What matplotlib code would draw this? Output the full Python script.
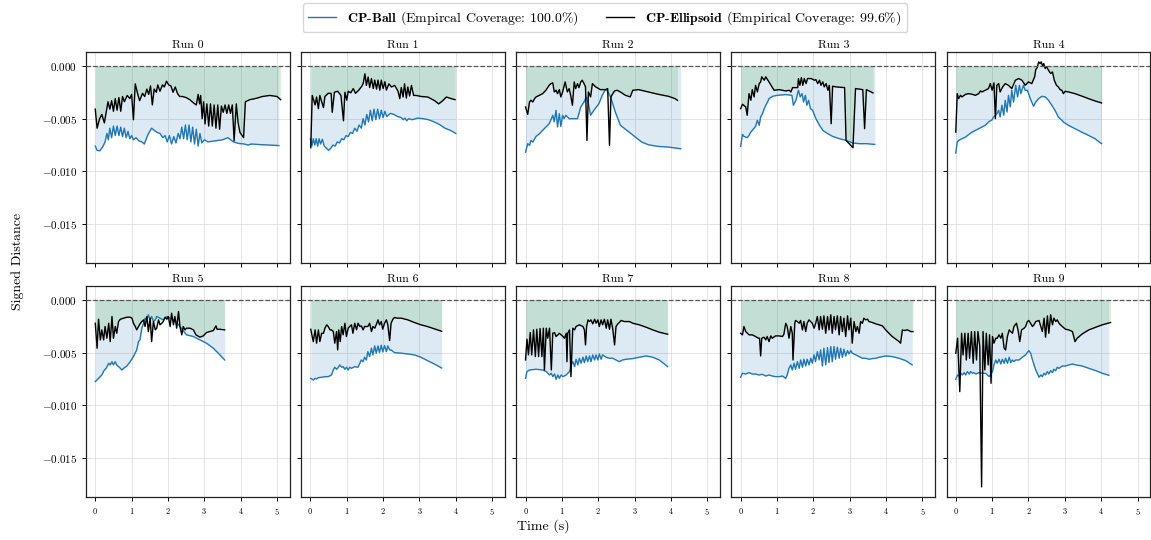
import matplotlib
matplotlib.use("Agg")
import matplotlib.pyplot as plt

plt.rcParams.update({
    "font.family": "cmr10",
    "mathtext.fontset": "cm",
    "axes.formatter.use_mathtext": True,
    "axes.unicode_minus": True,
})

SCALE = 1e-3  # values below are in units of 1e-3

RUNS = ["Run 0", "Run 1", "Run 2", "Run 3", "Run 4",
        "Run 5", "Run 6", "Run 7", "Run 8", "Run 9"]
BALL_LABEL = r"$\mathbf{CP}$-$\mathbf{Ball}$ (Empircal Coverage: 100.0%)"
ELL_LABEL = r"$\mathbf{CP}$-$\mathbf{Ellipsoid}$ (Empirical Coverage: 99.6%)"

# CP-Ball signed distance per run
T_BALL = [
    [0.0, 0.05, 0.12, 0.2, 0.27, 0.32, 0.36, 0.4, 0.45, 0.5, 0.55, 0.6, 0.65, 0.7, 0.75, 0.8, 0.85, 0.9, 0.95, 1.0,
     1.05, 1.12, 1.2, 1.28, 1.35, 1.45, 1.55, 1.62, 1.7, 1.78, 1.86, 1.92, 1.98, 2.04, 2.1, 2.16, 2.22, 2.28, 2.33,
     2.38, 2.43, 2.48, 2.53, 2.58, 2.63, 2.68, 2.73, 2.78, 2.83, 2.88, 2.93, 3.0, 3.1, 3.3, 3.5, 3.65, 3.8, 3.95,
     4.1, 4.2, 4.3, 4.5, 4.8, 5.05],
    [0.0, 0.04, 0.08, 0.12, 0.16, 0.2, 0.24, 0.28, 0.33, 0.38, 0.44, 0.5, 0.56, 0.62, 0.68, 0.74, 0.8, 0.86, 0.92,
     0.98, 1.04, 1.1, 1.16, 1.22, 1.28, 1.34, 1.4, 1.45, 1.5, 1.55, 1.6, 1.65, 1.7, 1.75, 1.8, 1.85, 1.9, 1.95, 2.0,
     2.05, 2.1, 2.2, 2.3, 2.4, 2.5, 2.55, 2.6, 2.65, 2.7, 2.8, 2.95, 3.1, 3.25, 3.4, 3.55, 3.7, 3.85, 4.0],
    [0.0, 0.06, 0.11, 0.15, 0.2, 0.29, 0.38, 0.47, 0.56, 0.65, 0.7, 0.75, 0.79, 0.84, 0.88, 0.93, 0.97, 1.02, 1.06,
     1.11, 1.2, 1.43, 1.52, 1.61, 1.67, 1.73, 1.79, 1.88, 2.02, 2.11, 2.2, 2.25, 2.34, 2.47, 2.61, 2.79, 3.02, 3.2,
     3.38, 3.65, 3.93, 4.27],
    [0.0, 0.05, 0.09, 0.18, 0.23, 0.28, 0.32, 0.41, 0.46, 0.51, 0.55, 0.6, 0.65, 0.69, 0.74, 0.78, 0.88, 1.01, 1.24,
     1.41, 1.45, 1.52, 1.59, 1.64, 1.69, 1.73, 1.78, 1.82, 1.87, 1.92, 1.98, 2.07, 2.17, 2.26, 2.4, 2.53, 2.72, 2.9,
     3.09, 3.27, 3.46, 3.69],
    [0.0, 0.04, 0.08, 0.17, 0.27, 0.36, 0.45, 0.54, 0.63, 0.72, 0.81, 0.9, 1.0, 1.04, 1.09, 1.13, 1.18, 1.22, 1.27,
     1.32, 1.36, 1.41, 1.45, 1.5, 1.54, 1.59, 1.65, 1.7, 1.75, 1.79, 1.86, 1.91, 1.97, 2.05, 2.14, 2.2, 2.28, 2.37,
     2.46, 2.55, 2.64, 2.73, 2.82, 2.92, 2.96, 3.1, 3.28, 3.46, 3.65, 3.83, 4.01],
    [0.0, 0.09, 0.18, 0.25, 0.3, 0.37, 0.41, 0.46, 0.5, 0.55, 0.59, 0.64, 0.69, 0.73, 0.78, 0.87, 0.96, 1.05, 1.14,
     1.19, 1.23, 1.28, 1.33, 1.37, 1.42, 1.46, 1.51, 1.55, 1.6, 1.65, 1.69, 1.78, 1.87, 1.97, 2.06, 2.15, 2.24, 2.33,
     2.51, 2.7, 2.88, 3.06, 3.25, 3.43, 3.56],
    [0.01, 0.08, 0.13, 0.17, 0.22, 0.31, 0.4, 0.49, 0.58, 0.63, 0.67, 0.72, 0.77, 0.81, 0.86, 0.9, 0.95, 0.99, 1.04,
     1.08, 1.13, 1.22, 1.31, 1.36, 1.4, 1.45, 1.49, 1.54, 1.58, 1.63, 1.68, 1.72, 1.77, 1.81, 1.86, 1.9, 1.95, 1.99,
     2.04, 2.09, 2.13, 2.18, 2.22, 2.31, 2.5, 2.68, 2.86, 3.04, 3.22, 3.41, 3.61],
    [0.0, 0.04, 0.11, 0.29, 0.48, 0.57, 0.66, 0.71, 0.75, 0.8, 0.84, 0.89, 0.93, 0.98, 1.03, 1.12, 1.16, 1.21, 1.25,
     1.3, 1.35, 1.39, 1.44, 1.48, 1.53, 1.58, 1.62, 1.67, 1.71, 1.76, 1.8, 1.85, 1.9, 1.94, 1.99, 2.03, 2.08, 2.12,
     2.22, 2.31, 2.4, 2.49, 2.58, 2.67, 2.77, 2.95, 3.13, 3.32, 3.5, 3.68, 3.77, 3.91],
    [0.0, 0.05, 0.14, 0.23, 0.32, 0.41, 0.5, 0.6, 0.69, 0.78, 0.87, 0.96, 1.06, 1.15, 1.24, 1.28, 1.33, 1.38, 1.42,
     1.47, 1.51, 1.56, 1.61, 1.65, 1.7, 1.74, 1.79, 1.83, 1.88, 1.93, 1.97, 2.02, 2.06, 2.11, 2.16, 2.2, 2.25, 2.29,
     2.34, 2.39, 2.43, 2.48, 2.52, 2.57, 2.61, 2.66, 2.71, 2.75, 2.8, 2.84, 2.89, 2.94, 2.98, 3.03, 3.07, 3.17, 3.26,
     3.35, 3.44, 3.53, 3.62, 3.72, 3.81, 3.9, 3.99, 4.17, 4.36, 4.54, 4.72],
    [0.0, 0.05, 0.09, 0.14, 0.18, 0.23, 0.27, 0.32, 0.37, 0.41, 0.46, 0.5, 0.55, 0.64, 0.73, 0.82, 0.92, 1.01, 1.05,
     1.1, 1.14, 1.19, 1.24, 1.28, 1.33, 1.37, 1.42, 1.47, 1.51, 1.56, 1.6, 1.65, 1.74, 1.83, 1.92, 2.01, 2.06, 2.11,
     2.2, 2.29, 2.34, 2.38, 2.43, 2.47, 2.52, 2.56, 2.61, 2.66, 2.7, 2.75, 2.79, 2.84, 2.93, 3.02, 3.11, 3.21, 3.3,
     3.48, 3.66, 3.85, 4.03, 4.21],
]
Y_BALL = [
    [-7.6, -8.0, -8.05, -7.7, -7.2, -6.4, -7.0, -5.9, -6.8, -5.7, -6.6, -5.7, -6.6, -5.8, -6.7, -5.9, -6.8, -6.2, -6.9,
     -6.6, -7.0, -6.8, -7.1, -7.2, -7.4, -6.5, -5.9, -6.1, -6.3, -6.4, -6.8, -6.6, -7.2, -6.6, -7.4, -6.7, -7.3, -6.4,
     -6.9, -5.8, -6.9, -5.6, -7.0, -5.6, -7.2, -5.8, -7.4, -6.0, -7.6, -6.4, -7.3, -7.0, -7.2, -7.1, -7.0, -6.8, -7.2,
     -7.35, -7.4, -7.5, -7.4, -7.45, -7.5, -7.55],
    [-6.9, -7.6, -6.9, -7.5, -6.9, -7.6, -6.9, -7.4, -6.95, -7.6, -7.8, -8.0, -7.8, -7.5, -7.6, -7.2, -7.3, -6.9, -7.0,
     -6.6, -6.7, -6.3, -6.4, -5.9, -6.2, -5.6, -5.9, -5.0, -5.6, -4.6, -5.3, -4.2, -5.2, -4.1, -5.1, -4.1, -5.0, -4.2,
     -4.9, -4.3, -4.8, -4.5, -4.6, -4.8, -4.9, -5.1, -4.95, -5.2, -5.0, -5.1, -4.95, -5.0, -5.1, -5.3, -5.55, -5.9,
     -6.1, -6.4],
    [-8.17, -7.37, -7.53, -7.06, -7.22, -6.68, -6.43, -6.11, -5.79, -5.48, -5.1, -4.68, -5.3, -4.21, -5.79, -4.53,
     -5.73, -4.68, -5.0, -4.68, -5.0, -5.0, -3.89, -3.42, -2.94, -3.58, -4.68, -4.21, -3.58, -2.79, -2.25, -2.37,
     -2.94, -4.37, -5.63, -6.11, -6.74, -7.22, -7.47, -7.63, -7.69, -7.85],
    [-7.63, -6.49, -6.68, -6.8, -6.58, -6.27, -6.11, -5.73, -5.16, -5.63, -4.84, -4.53, -4.05, -3.73, -3.42, -3.1,
     -2.88, -2.79, -2.72, -2.79, -3.73, -3.26, -2.31, -2.94, -2.63, -3.42, -2.79, -3.73, -3.26, -4.05, -4.21, -5.0,
     -5.63, -6.11, -6.43, -6.68, -6.9, -7.06, -7.31, -7.37, -7.37, -7.44],
    [-8.26, -7.22, -7.06, -6.9, -6.74, -6.49, -6.27, -6.11, -5.95, -5.79, -5.63, -5.32, -5.1, -4.84, -4.68, -4.53,
     -4.21, -4.84, -3.73, -4.68, -3.26, -4.37, -2.79, -3.89, -2.31, -3.42, -1.84, -2.94, -1.84, -2.63, -1.84, -2.31,
     -2.31, -3.1, -3.83, -3.42, -3.1, -2.88, -2.94, -3.26, -3.73, -4.21, -4.84, -5.16, -5.32, -5.63, -5.95, -6.27,
     -6.58, -6.9, -7.37],
    [-7.75, -7.44, -7.12, -6.65, -6.49, -6.01, -6.17, -5.86, -6.17, -5.86, -6.17, -6.33, -6.49, -6.65, -6.49, -6.27,
     -5.86, -5.38, -4.75, -3.96, -3.8, -2.69, -2.22, -1.74, -1.9, -1.42, -1.9, -1.58, -2.06, -1.9, -1.58, -1.74, -1.9,
     -1.58, -1.74, -1.9, -2.15, -2.53, -3.32, -3.48, -3.8, -4.11, -4.59, -5.22, -5.7],
    [-7.44, -7.6, -7.44, -7.5, -7.37, -7.34, -7.28, -7.28, -7.12, -6.65, -6.39, -6.58, -6.39, -6.17, -6.39, -6.33,
     -6.58, -6.39, -6.65, -6.39, -6.49, -6.33, -6.39, -6.01, -5.7, -5.86, -5.44, -5.7, -4.91, -5.38, -4.59, -5.22,
     -4.37, -5.06, -4.37, -5.0, -4.3, -4.94, -4.34, -4.91, -4.37, -4.75, -4.75, -5.0, -5.06, -5.13, -5.22, -5.44,
     -5.76, -6.08, -6.46],
    [-7.44, -6.8, -6.65, -6.58, -6.65, -6.8, -7.12, -6.96, -7.28, -7.03, -7.53, -7.12, -7.44, -7.12, -7.28, -7.12,
     -6.96, -6.8, -6.17, -5.86, -6.33, -5.63, -6.17, -5.54, -6.01, -5.44, -5.95, -5.32, -5.86, -5.32, -5.86, -5.22,
     -5.7, -5.22, -5.7, -5.13, -5.63, -5.22, -5.44, -5.54, -5.54, -5.7, -5.86, -5.7, -5.63, -5.57, -5.44, -5.32,
     -5.44, -5.7, -5.95, -6.33],
    [-7.34, -6.96, -7.03, -6.9, -7.03, -7.03, -7.12, -7.06, -7.22, -7.12, -7.22, -7.28, -7.28, -7.22, -7.44, -7.12,
     -6.49, -6.17, -6.65, -6.01, -6.58, -5.86, -6.49, -5.7, -6.39, -5.63, -6.27, -5.63, -6.17, -5.54, -6.01, -5.22,
     -5.86, -4.91, -5.7, -4.75, -6.27, -4.59, -6.17, -4.53, -5.95, -4.43, -5.86, -4.43, -5.63, -4.49, -5.54, -4.59,
     -5.44, -4.68, -5.32, -4.81, -5.13, -4.81, -5.06, -5.22, -5.38, -5.54, -5.54, -5.63, -5.57, -5.54, -5.44, -5.38,
     -5.32, -5.38, -5.54, -5.76, -6.17],
    [-7.53, -7.12, -7.22, -6.96, -7.12, -6.9, -7.12, -6.8, -7.03, -6.8, -6.96, -6.9, -7.03, -6.9, -6.96, -6.96, -7.28,
     -6.8, -6.17, -5.7, -6.01, -5.63, -6.08, -5.63, -6.01, -5.54, -6.01, -5.44, -5.95, -5.7, -5.86, -5.7, -5.7, -5.44,
     -5.22, -4.81, -5.06, -5.7, -6.65, -7.34, -7.12, -7.28, -6.96, -7.12, -6.8, -7.03, -6.71, -6.9, -6.58, -6.71,
     -6.39, -6.49, -6.27, -6.27, -6.17, -6.08, -6.17, -6.27, -6.49, -6.71, -6.96, -7.15],
]

# CP-Ellipsoid signed distance per run
T_ELL = [
    [0.0, 0.05, 0.12, 0.18, 0.25, 0.3, 0.35, 0.4, 0.45, 0.5, 0.55, 0.6, 0.65, 0.7, 0.75, 0.8, 0.88, 0.95, 1.0, 1.05,
     1.1, 1.17, 1.22, 1.3, 1.36, 1.42, 1.47, 1.52, 1.57, 1.62, 1.68, 1.72, 1.78, 1.85, 1.9, 1.96, 2.02, 2.08, 2.14,
     2.2, 2.26, 2.32, 2.4, 2.5, 2.6, 2.7, 2.78, 2.83, 2.87, 2.9, 2.94, 2.98, 3.02, 3.07, 3.12, 3.17, 3.22, 3.27, 3.32,
     3.37, 3.42, 3.47, 3.52, 3.57, 3.62, 3.67, 3.72, 3.77, 3.82, 3.88, 3.93, 3.98, 4.08, 4.13, 4.25, 4.4, 4.6, 4.8,
     5.0, 5.1],
    [0.01, 0.05, 0.13, 0.17, 0.22, 0.26, 0.31, 0.36, 0.4, 0.49, 0.57, 0.6, 0.66, 0.75, 0.84, 0.91, 0.95, 1.0, 1.04,
     1.11, 1.18, 1.24, 1.33, 1.41, 1.45, 1.5, 1.54, 1.59, 1.63, 1.68, 1.73, 1.77, 1.82, 1.86, 1.91, 1.95, 2.0, 2.05,
     2.09, 2.16, 2.23, 2.32, 2.41, 2.46, 2.5, 2.55, 2.59, 2.64, 2.68, 2.73, 2.78, 2.84, 2.91, 3.05, 3.23, 3.42, 3.53,
     3.64, 3.74, 3.87, 3.98],
    [0.0, 0.06, 0.11, 0.15, 0.2, 0.25, 0.29, 0.38, 0.47, 0.56, 0.65, 0.7, 0.75, 0.79, 0.84, 0.88, 0.93, 0.97, 1.02,
     1.09, 1.15, 1.2, 1.25, 1.29, 1.34, 1.38, 1.43, 1.47, 1.52, 1.56, 1.61, 1.65, 1.69, 1.73, 1.79, 1.84, 1.93, 2.06,
     2.2, 2.26, 2.31, 2.35, 2.4, 2.45, 2.52, 2.61, 2.75, 2.88, 2.95, 3.11, 3.38, 3.65, 3.93, 4.11, 4.18],
    [0.0, 0.05, 0.14, 0.18, 0.23, 0.28, 0.32, 0.37, 0.41, 0.46, 0.51, 0.55, 0.58, 0.65, 0.69, 0.78, 0.92, 1.06, 1.24,
     1.34, 1.38, 1.43, 1.57, 1.59, 1.63, 1.67, 1.71, 1.75, 1.8, 1.84, 1.94, 2.03, 2.07, 2.12, 2.17, 2.21, 2.26, 2.3,
     2.35, 2.4, 2.44, 2.49, 2.53, 2.63, 2.86, 2.9, 3.09, 3.16, 3.36, 3.41, 3.46, 3.59, 3.64],
    [0.0, 0.04, 0.08, 0.13, 0.17, 0.27, 0.36, 0.45, 0.54, 0.63, 0.68, 0.72, 0.81, 0.9, 0.95, 1.0, 1.05, 1.09, 1.13,
     1.18, 1.22, 1.29, 1.36, 1.45, 1.54, 1.64, 1.73, 1.82, 1.91, 2.0, 2.09, 2.17, 2.2, 2.24, 2.28, 2.32, 2.35, 2.39,
     2.42, 2.46, 2.5, 2.55, 2.61, 2.66, 2.71, 2.77, 2.82, 2.87, 2.92, 2.96, 3.01, 3.1, 3.28, 3.46, 3.65, 3.83, 4.01],
    [0.0, 0.05, 0.09, 0.14, 0.18, 0.23, 0.27, 0.32, 0.37, 0.41, 0.46, 0.5, 0.55, 0.59, 0.64, 0.69, 0.78, 0.87, 0.96,
     1.01, 1.05, 1.1, 1.14, 1.19, 1.23, 1.28, 1.33, 1.37, 1.42, 1.46, 1.51, 1.55, 1.6, 1.65, 1.69, 1.74, 1.78, 1.83,
     1.87, 1.92, 1.97, 2.01, 2.06, 2.1, 2.15, 2.19, 2.24, 2.29, 2.33, 2.38, 2.42, 2.47, 2.51, 2.61, 2.7, 2.77, 2.88,
     2.97, 3.06, 3.15, 3.25, 3.32, 3.35, 3.43, 3.56],
    [0.01, 0.05, 0.08, 0.13, 0.17, 0.22, 0.26, 0.31, 0.36, 0.4, 0.45, 0.49, 0.54, 0.58, 0.63, 0.67, 0.72, 0.75, 0.78,
     0.82, 0.86, 0.9, 0.95, 0.99, 1.04, 1.08, 1.13, 1.17, 1.22, 1.27, 1.31, 1.36, 1.4, 1.45, 1.49, 1.58, 1.63, 1.68,
     1.72, 1.77, 1.81, 1.86, 1.9, 1.95, 1.99, 2.04, 2.09, 2.13, 2.18, 2.22, 2.27, 2.31, 2.4, 2.5, 2.68, 2.86, 3.04,
     3.22, 3.41, 3.61],
    [0.0, 0.04, 0.08, 0.13, 0.17, 0.22, 0.27, 0.31, 0.36, 0.4, 0.45, 0.49, 0.52, 0.57, 0.61, 0.66, 0.71, 0.75, 0.8,
     0.84, 0.89, 0.93, 0.98, 1.03, 1.07, 1.12, 1.14, 1.16, 1.21, 1.25, 1.3, 1.35, 1.39, 1.48, 1.58, 1.62, 1.65, 1.68,
     1.72, 1.76, 1.8, 1.85, 1.9, 1.94, 1.99, 2.03, 2.08, 2.12, 2.17, 2.22, 2.26, 2.31, 2.35, 2.4, 2.45, 2.49, 2.54,
     2.58, 2.63, 2.72, 2.86, 2.95, 3.13, 3.32, 3.5, 3.68, 3.91],
    [0.0, 0.05, 0.09, 0.14, 0.23, 0.32, 0.41, 0.49, 0.52, 0.55, 0.58, 0.64, 0.69, 0.73, 0.78, 0.83, 0.87, 0.96, 1.06,
     1.15, 1.19, 1.24, 1.28, 1.33, 1.38, 1.42, 1.44, 1.49, 1.51, 1.56, 1.61, 1.65, 1.7, 1.74, 1.79, 1.83, 1.88, 1.97,
     2.02, 2.06, 2.11, 2.16, 2.2, 2.25, 2.29, 2.34, 2.39, 2.43, 2.48, 2.52, 2.57, 2.61, 2.66, 2.71, 2.75, 2.8, 2.84,
     2.89, 2.94, 2.98, 3.03, 3.07, 3.12, 3.17, 3.21, 3.26, 3.3, 3.35, 3.39, 3.44, 3.49, 3.53, 3.62, 3.72, 3.81, 3.9,
     3.99, 4.08, 4.17, 4.27, 4.36, 4.4, 4.45, 4.5, 4.59, 4.68, 4.74],
    [0.0, 0.05, 0.11, 0.16, 0.2, 0.25, 0.29, 0.34, 0.38, 0.43, 0.48, 0.52, 0.57, 0.61, 0.66, 0.71, 0.75, 0.8, 0.84,
     0.89, 0.93, 0.97, 1.01, 1.05, 1.1, 1.14, 1.19, 1.24, 1.28, 1.33, 1.37, 1.42, 1.47, 1.51, 1.56, 1.6, 1.67, 1.72,
     1.76, 1.81, 1.88, 1.92, 1.97, 2.01, 2.11, 2.15, 2.2, 2.29, 2.38, 2.43, 2.47, 2.52, 2.56, 2.61, 2.66, 2.7, 2.75,
     2.79, 2.84, 2.88, 2.93, 3.02, 3.11, 3.21, 3.28, 3.34, 3.48, 3.66, 3.85, 4.03, 4.26],
]
Y_ELL = [
    [-4.1, -5.9, -5.0, -4.6, -5.4, -4.4, -3.4, -4.1, -3.3, -4.3, -3.1, -4.2, -3.0, -4.3, -2.9, -3.4, -2.8, -3.1, -2.7,
     -5.1, -1.7, -2.7, -3.3, -2.6, -2.9, -2.2, -2.7, -1.9, -3.7, -2.2, -2.5, -1.8, -2.4, -1.8, -2.0, -1.45, -1.8, -1.9,
     -2.5, -2.0, -2.6, -2.9, -2.9, -3.0, -3.2, -3.5, -3.7, -2.7, -3.6, -2.8, -5.0, -3.4, -5.5, -3.6, -5.7, -3.6, -5.7,
     -3.7, -5.9, -3.7, -6.0, -3.8, -4.4, -3.7, -4.5, -3.7, -4.5, -3.7, -7.1, -3.6, -5.4, -6.3, -6.8, -3.4, -3.2, -3.1,
     -2.9, -2.8, -2.9, -3.2],
    [-7.75, -2.8, -3.7, -2.95, -4.05, -2.8, -3.4, -3.95, -2.9, -2.6, -2.6, -4.4, -2.5, -2.4, -2.8, -5.2, -2.5, -3.25,
     -2.4, -2.55, -2.15, -2.6, -2.3, -1.95, -1.7, -0.75, -1.85, -1.05, -2.05, -1.2, -2.15, -1.35, -2.2, -1.35, -2.3,
     -1.35, -2.15, -1.5, -2.3, -1.7, -2.0, -1.85, -2.4, -3.1, -2.05, -2.95, -1.7, -3.05, -2.0, -2.85, -1.85, -2.8,
     -2.8, -2.9, -2.95, -3.3, -3.6, -3.3, -2.95, -3.1, -3.2],
    [-3.89, -4.59, -3.42, -3.26, -3.42, -3.1, -2.94, -2.79, -2.63, -2.31, -1.84, -1.68, -1.61, -2.47, -2.31, -2.63,
     -2.25, -2.94, -2.47, -1.52, -2.47, -2.15, -2.94, -3.73, -1.52, -2.15, -1.68, -2.06, -1.52, -1.36, -1.68, -1.99,
     -7.06, -2.47, -2.94, -1.68, -1.99, -2.25, -2.25, -2.15, -7.53, -2.94, -2.63, -2.37, -2.31, -2.47, -2.79, -2.94,
     -2.31, -2.25, -2.47, -2.69, -2.88, -3.1, -3.26],
    [-4.05, -3.64, -3.89, -4.68, -2.63, -3.26, -2.25, -2.94, -1.84, -2.47, -1.68, -1.52, -1.04, -1.36, -1.04, -1.52,
     -2.31, -2.25, -2.37, -2.31, -2.47, -2.06, -2.06, -1.2, -1.84, -1.11, -1.84, -1.2, -1.68, -1.2, -1.2, -1.36, -1.3,
     -1.68, -1.36, -1.84, -1.52, -1.99, -1.68, -2.31, -1.84, -5.48, -1.93, -1.99, -2.06, -7.06, -7.75, -2.15, -2.25,
     -5.95, -2.25, -2.47, -2.56],
    [-6.27, -2.63, -3.1, -2.79, -2.94, -2.69, -2.63, -2.69, -2.79, -2.63, -2.37, -2.47, -2.31, -2.15, -1.68, -2.31,
     -1.61, -5.0, -1.84, -1.68, -2.47, -1.99, -1.68, -1.84, -2.15, -1.36, -1.2, -1.36, -1.84, -1.52, -1.68, -1.04,
     -0.35, -0.16, 0.38, 0.22, 0.38, -0.03, 0.22, -0.25, -0.09, -0.41, -0.73, -0.57, -1.36, -1.84, -1.99, -2.25,
     -2.31, -2.63, -2.41, -2.47, -2.63, -2.85, -3.1, -3.32, -3.51],
    [-2.22, -4.59, -1.84, -3.8, -2.85, -3.8, -2.53, -3.64, -2.22, -3.96, -1.58, -3.64, -2.53, -3.17, -2.06, -1.84,
     -1.74, -1.65, -1.65, -1.74, -2.22, -2.53, -2.85, -2.53, -2.28, -2.06, -1.9, -2.53, -1.58, -3.01, -1.74, -3.96,
     -2.06, -2.85, -2.69, -1.9, -2.37, -2.22, -2.06, -1.65, -1.84, -1.58, -2.53, -1.27, -2.37, -1.58, -2.69, -1.11,
     -2.53, -3.32, -2.53, -2.85, -2.69, -2.69, -2.85, -3.32, -3.54, -3.42, -3.1, -3.01, -2.91, -2.47, -2.79, -2.79,
     -2.85],
    [-2.79, -3.48, -3.96, -2.85, -4.11, -2.85, -3.96, -3.17, -3.17, -2.69, -2.37, -2.53, -2.85, -2.85, -3.01, -4.11,
     -3.01, -4.75, -2.85, -3.96, -2.53, -3.32, -2.22, -3.48, -2.69, -2.53, -2.37, -3.17, -2.22, -2.85, -2.22, -2.53,
     -2.47, -2.85, -2.53, -2.53, -2.22, -3.01, -2.53, -2.69, -2.37, -1.9, -2.37, -2.06, -2.79, -2.22, -1.9, -2.37,
     -3.86, -2.22, -1.84, -1.68, -1.74, -1.74, -1.9, -2.15, -2.37, -2.53, -2.75, -2.98],
    [-5.7, -3.73, -5.22, -3.1, -5.22, -2.85, -5.38, -2.79, -5.38, -2.72, -5.38, -2.69, -6.65, -2.69, -3.64, -2.69,
     -6.65, -3.17, -3.1, -3.48, -3.32, -3.17, -3.32, -3.48, -3.64, -3.17, -5.86, -3.17, -2.85, -7.28, -2.69, -2.85,
     -2.53, -2.37, -2.53, -2.85, -4.27, -2.53, -1.9, -2.06, -1.9, -2.28, -1.84, -2.22, -1.9, -2.53, -1.9, -2.37,
     -1.84, -2.69, -1.9, -2.79, -1.84, -2.79, -4.27, -2.53, -2.28, -2.15, -1.96, -2.06, -2.06, -2.22, -2.37, -2.6,
     -2.85, -3.07, -3.26],
    [-3.17, -3.32, -2.53, -3.01, -3.32, -3.32, -3.48, -3.64, -3.64, -5.32, -3.64, -3.54, -3.8, -3.48, -3.96, -3.42,
     -3.64, -3.42, -3.42, -3.48, -3.26, -2.22, -2.53, -3.64, -2.53, -3.17, -5.7, -2.22, -1.96, -2.06, -2.22, -1.96,
     -2.85, -2.06, -3.01, -2.22, -1.9, -2.22, -2.69, -2.28, -1.58, -2.85, -1.58, -2.79, -1.52, -3.17, -1.58, -2.85,
     -1.42, -3.17, -1.58, -2.85, -1.52, -3.32, -1.58, -3.01, -1.74, -3.48, -1.52, -2.85, -1.74, -4.11, -2.06, -3.01,
     -2.53, -3.17, -2.06, -2.22, -1.74, -1.9, -1.84, -2.06, -2.15, -2.28, -2.37, -2.47, -2.85, -3.17, -3.48, -3.73,
     -3.96, -4.11, -2.85, -2.91, -2.85, -3.01, -3.01],
    [-5.06, -3.64, -8.7, -3.17, -5.22, -3.17, -5.7, -3.17, -5.54, -3.01, -6.01, -3.01, -5.7, -3.01, -4.43, -17.72,
     -3.01, -6.65, -3.17, -6.17, -3.32, -7.91, -3.48, -4.11, -3.64, -3.64, -3.32, -3.64, -3.17, -4.59, -4.75, -3.48,
     -2.85, -3.01, -3.17, -2.53, -2.22, -3.01, -3.96, -2.85, -2.69, -2.53, -2.06, -1.96, -2.53, -2.37, -2.06, -1.96,
     -3.01, -1.74, -3.54, -1.52, -3.17, -1.42, -2.37, -1.74, -2.06, -1.9, -2.22, -2.37, -2.53, -2.79, -2.85, -3.01,
     -3.96, -3.64, -3.23, -2.85, -2.6, -2.37, -2.15],
]

BLUE, GREEN = "#1f77b4", "#2ca02c"
W, H = 1151, 540

fig, axes = plt.subplots(2, 5, figsize=(W / 100, H / 100), dpi=100, sharex=True, sharey=True)
fig.subplots_adjust(left=86 / W, right=0.9995, bottom=0.0802, top=0.904, wspace=0.055, hspace=0.109)

for i, ax in enumerate(axes.flat):
    tb = T_BALL[i]; yb = [v * SCALE for v in Y_BALL[i]]
    te = T_ELL[i]; ye = [v * SCALE for v in Y_ELL[i]]
    ax.fill_between(tb, yb, 0, color=BLUE, alpha=0.15, linewidth=0)
    ax.fill_between(te, ye, 0, color=GREEN, alpha=0.15, linewidth=0)
    ax.plot(tb, yb, color=BLUE, lw=1.0, label=BALL_LABEL)
    ax.plot(te, ye, color="black", lw=1.0, label=ELL_LABEL)
    ax.axhline(0, color="#555555", ls="--", lw=0.9, zorder=3)
    ax.set_title(RUNS[i], fontsize=8.5, pad=3)
    ax.grid(True, color="#dddddd", lw=0.7, alpha=0.8)
    ax.set_axisbelow(True)
    for s in ax.spines.values():
        s.set_color("#222222"); s.set_linewidth(0.9)
    ax.tick_params(axis="y", labelsize=8, length=3, width=0.7)
    ax.tick_params(axis="x", labelsize=6, length=3, width=0.7)

ax0 = axes[0, 0]
ax0.set_xlim(-0.255, 5.355)
ax0.set_ylim(-0.01865, 0.00133)
ax0.set_xticks([0, 1, 2, 3, 4, 5])
ax0.set_yticks([0.0, -0.005, -0.010, -0.015])

handles, labels = ax0.get_legend_handles_labels()
fig.legend(handles, labels, loc="upper center", ncol=2, bbox_to_anchor=(605 / W, 1.0),
           fontsize=10, frameon=True, edgecolor="#cccccc", handlelength=2.0, columnspacing=2.0,
           borderaxespad=0.25)
fig.text(543 / W, 1 - 526 / H, "Time (s)", ha="center", va="center", fontsize=10)
fig.text(18 / W, 1 - 262 / H, "Signed Distance", ha="center", va="center", rotation=90, fontsize=10)

fig.savefig("out.png", dpi=100)
